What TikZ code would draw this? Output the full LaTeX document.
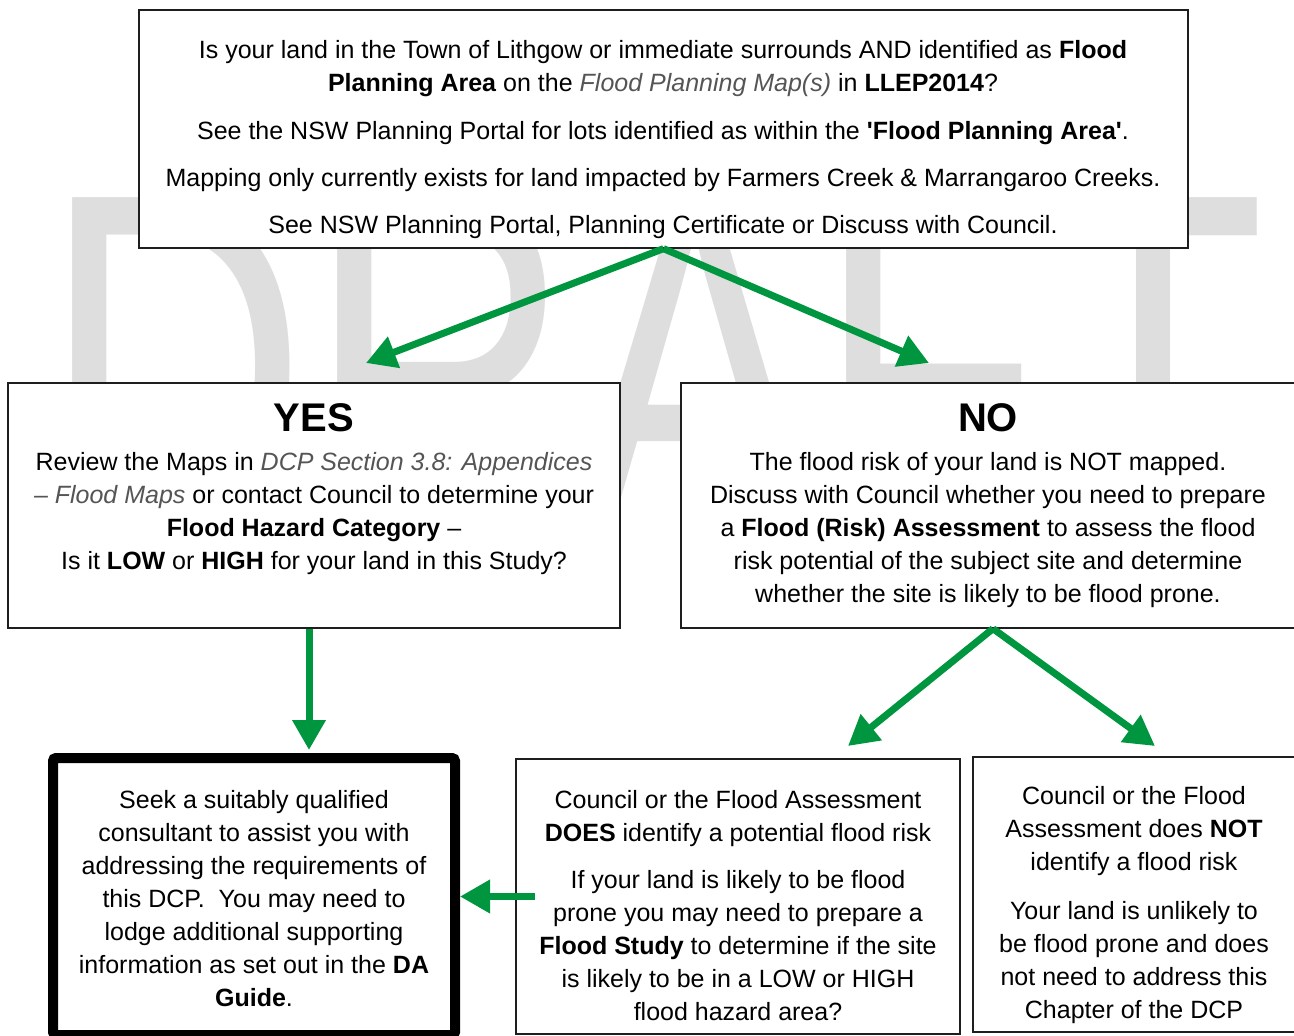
\documentclass[tikz,border=0pt]{standalone}
\usepackage{fontspec}
\setmainfont{Liberation Sans}
\usetikzlibrary{arrows.meta}
\definecolor{agreen}{RGB}{0,150,64}
\definecolor{wmgray}{RGB}{222,222,222}
\definecolor{itgray}{RGB}{85,85,85}
\definecolor{boxline}{RGB}{30,30,30}
\newcommand{\gi}[1]{\textcolor{itgray}{\itshape #1}}
\begin{document}
\begin{tikzpicture}[x=1pt,y=-1pt,
  box/.style={draw=boxline, line width=1.3pt, fill=white, inner sep=0pt, rectangle},
  txt/.style={align=center, inner sep=0pt, anchor=north, font=\fontsize{25}{33}\selectfont},
  head/.style={inner sep=0pt, anchor=base, font=\fontsize{40}{48}\selectfont\bfseries},
  garrow/.style={draw=agreen, line width=7pt, -{Triangle[length=30pt,width=32pt]}}]
\useasboundingbox (0,0) rectangle (1294,1036);
\clip (0,0) rectangle (1294,1036);
% watermark
\node[inner sep=0pt, anchor=base west, text=wmgray, yscale=1.366,
      font=\fontsize{367}{367}\selectfont] (draft) at (42,542) {DRAFT};
% boxes
\node[box, minimum width=1049pt, minimum height=238pt] (top) at (663.5,129) {};
\node[box, minimum width=612pt, minimum height=245pt] (yes) at (314,505.5) {};
\node[box, minimum width=624pt, minimum height=245pt] (no) at (993,505.5) {};
\node[draw=black, line width=10pt, fill=white, rounded corners=3pt, inner sep=0pt,
      minimum width=402pt, minimum height=277pt] (seek) at (254,896.5) {};
\node[box, minimum width=444pt, minimum height=275pt] (does) at (738,896.5) {};
\node[box, minimum width=322pt, minimum height=275pt] (not) at (1134,894.5) {};
% texts
\node[txt] (toptxt) at (663,34.9) {\strut Is your land in the Town of Lithgow or immediate surrounds AND identified as \textbf{Flood}\\
\textbf{Planning Area} on the \gi{Flood Planning Map(s)} in \textbf{LLEP2014}?\\[15pt]
See the NSW Planning Portal for lots identified as within the \textbf{\textquotesingle Flood Planning Area\textquotesingle}.\\[14pt]
Mapping only currently exists for land impacted by Farmers Creek \& Marrangaroo Creeks.\\[14pt]
See NSW Planning Portal, Planning Certificate or Discuss with Council.};
\node[head] (yeshead) at (314,431) {YES};
\node[txt] (yestxt) at (314,446.9) {\strut Review the Maps in \gi{DCP Section 3.8: Appendices}\\
\gi{-- Flood Maps} or contact Council to determine your\\
\textbf{Flood Hazard Category} --\\
Is it \textbf{LOW} or \textbf{HIGH} for your land in this Study?};
\node[head] (nohead) at (988,431) {NO};
\node[txt] (notxt) at (988,446.9) {\strut The flood risk of your land is NOT mapped.\\
Discuss with Council whether you need to prepare\\
a \textbf{Flood (Risk) Assessment} to assess the flood\\
risk potential of the subject site and determine\\
whether the site is likely to be flood prone.};
\node[txt] (seektxt) at (254,784.9) {\strut Seek a suitably qualified\\
consultant to assist you with\\
addressing the requirements of\\
this DCP.~ You may need to\\
lodge additional supporting\\
information as set out in the \textbf{DA}\\
\textbf{Guide}.};
\node[txt] (doestxt) at (738,784.9) {\strut Council or the Flood Assessment\\
\textbf{DOES} identify a potential flood risk\\[14pt]
If your land is likely to be flood\\
prone you may need to prepare a\\
\textbf{Flood Study} to determine if the site\\
is likely to be in a LOW or HIGH\\
flood hazard area?};
\node[txt] (nottxt) at (1134,780.9) {\strut Council or the Flood\\
Assessment does \textbf{NOT}\\
identify a flood risk\\[16pt]
Your land is unlikely to\\
be flood prone and does\\
not need to address this\\
Chapter of the DCP};
% arrow tips
\coordinate (tY) at (366,363);
\coordinate (tN) at (929,363);
\coordinate (tS) at (309,750);
\coordinate (tD) at (848,746);
\coordinate (tU) at (1155,746);
% connectors
\draw[garrow] (top.south) -- (tY);
\draw[garrow] (top.south) -- (tN);
\draw[garrow] (yes.south -| tS) -- (tS);
\draw[garrow] (no.south) -- (tD);
\draw[garrow] (no.south) -- (tU);
\draw[garrow] ([xshift=20pt]does.west) -- (seek.east);
\end{tikzpicture}
\end{document}
